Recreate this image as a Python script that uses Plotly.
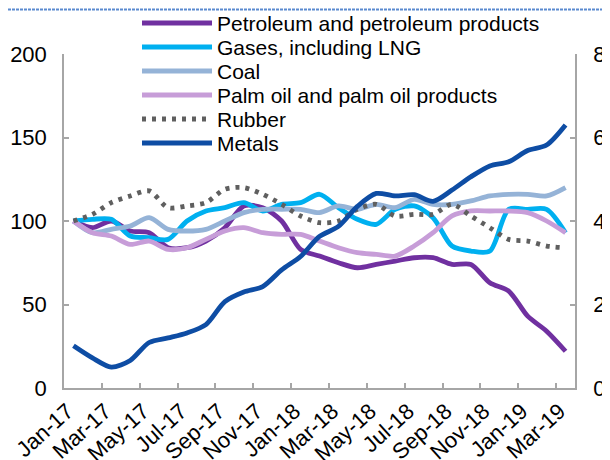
import plotly.graph_objects as go

# monthly categories, Jan-17 .. Mar-19
months = [
    "Jan-17", "Feb-17", "Mar-17", "Apr-17", "May-17", "Jun-17", "Jul-17",
    "Aug-17", "Sep-17", "Oct-17", "Nov-17", "Dec-17", "Jan-18", "Feb-18",
    "Mar-18", "Apr-18", "May-18", "Jun-18", "Jul-18", "Aug-18", "Sep-18",
    "Oct-18", "Nov-18", "Dec-18", "Jan-19", "Feb-19", "Mar-19",
]

# left axis (index, Jan-17 = 100)
petroleum = [100, 96, 100, 94, 93, 84, 84, 88, 96, 109, 108, 100, 83, 79,
             75, 72, 74, 76, 78, 78, 74, 74, 63, 58, 43, 34, 22]
gases = [100, 101, 101, 91, 90, 89, 100, 106, 108, 111, 106, 110, 111, 116,
         108, 101, 98, 107, 109, 102, 85, 82, 82, 107, 107, 107, 93]
coal = [100, 93, 95, 97, 102, 95, 94, 95, 100, 105, 107, 107, 107, 105,
        109, 107, 110, 108, 113, 110, 110, 112, 115, 116, 116, 115, 120]
palm_oil = [100, 93, 91, 86, 88, 83, 84, 89, 94, 96, 93, 92, 92, 88,
            84, 81, 80, 79, 85, 93, 103, 106, 106, 106, 105, 100, 93]
rubber = [100, 104, 111, 115, 118, 108, 109, 111, 119, 120, 116, 110, 103, 99,
          100, 107, 110, 103, 104, 104, 110, 103, 96, 89, 88, 85, 84]
# right axis
metals = [10.1, 7.2, 5.0, 6.6, 10.9, 12.0, 13.2, 15.2, 20.7, 23.0, 24.3, 28.3,
          31.5, 36.3, 38.7, 43.5, 46.6, 46.0, 46.3, 44.7, 47.4, 50.6, 53.2,
          54.2, 56.9, 58.2, 63.0]

FONT = "Liberation Sans, Arial, sans-serif"
AXIS_COLOR = "#a6a6a6"

# the page puts the figure 8px in from the top-left corner, so the margins
# are trimmed by 8px to keep the plot box where it belongs
OFF = 8
PLOT_L, PLOT_R, PLOT_T, PLOT_B = 64, 575, 54, 388   # page pixels
plot_w, plot_h = PLOT_R - PLOT_L, PLOT_B - PLOT_T

series = [
    ("Petroleum and petroleum products", petroleum, "#7030a0", "solid", "y"),
    ("Gases, including LNG", gases, "#00b0f0", "solid", "y"),
    ("Coal", coal, "#95b3d7", "solid", "y"),
    ("Palm oil and palm oil products", palm_oil, "#c79dd8", "solid", "y"),
    ("Rubber", rubber, "#5f5f5f", "4px,6px", "y"),
    ("Metals", metals, "#0e4da4", "solid", "y2"),
]

fig = go.Figure()
for name, vals, color, dash, yax in series:
    fig.add_trace(go.Scatter(
        x=months, y=vals, name=name, yaxis=yax, mode="lines",
        line=dict(color=color, width=4.8, dash=dash, shape="spline", smoothing=0.8),
        showlegend=False,
    ))

# hand-made legend (tight 24px rows)
for i, (name, vals, color, dash, yax) in enumerate(series):
    ypx = 23 + 24 * i
    yp = (PLOT_B - ypx) / plot_h
    fig.add_shape(type="line", xref="paper", yref="paper",
                  x0=(142 - PLOT_L) / plot_w, x1=(212 - PLOT_L) / plot_w, y0=yp, y1=yp,
                  line=dict(color=color, width=4.8, dash=dash))
    fig.add_annotation(xref="paper", yref="paper", x=(215 - PLOT_L) / plot_w, y=yp,
                       text=name, showarrow=False, xanchor="left", yanchor="middle",
                       font=dict(size=21, color="black", family=FONT))

# dashed border line along the top edge
ytop = (PLOT_B - (OFF + 1.5)) / plot_h
fig.add_shape(type="line", xref="paper", yref="paper",
              x0=-PLOT_L / plot_w, x1=(620 - PLOT_L) / plot_w, y0=ytop, y1=ytop,
              line=dict(color="#5a8ad0", width=2, dash="3px,1px"))

axis_common = dict(
    showline=True, linecolor=AXIS_COLOR, linewidth=1.5,
    ticks="inside", ticklen=5, tickcolor=AXIS_COLOR, tickwidth=1.5,
    showgrid=False, zeroline=False, automargin=False,
    tickfont=dict(size=22, color="black", family=FONT),
)

fig.update_layout(
    width=610, height=460,
    margin=dict(l=PLOT_L - OFF, r=610 - (PLOT_R - OFF),
                t=PLOT_T - OFF, b=460 - (PLOT_B - OFF)),
    paper_bgcolor="white", plot_bgcolor="white",
    font=dict(family=FONT, size=21, color="black"),
    xaxis=dict(type="category", range=[-0.5, 26.5], dtick=2,
               tickson="boundaries", tickangle=-42, ticklabelshift=-6,
               **axis_common),
    yaxis=dict(range=[0, 200], dtick=50, ticklabelstandoff=11, **axis_common),
    yaxis2=dict(range=[0, 80], dtick=20, overlaying="y", side="right",
                ticklabelstandoff=12, **axis_common),
)

fig.write_html("out.html")
